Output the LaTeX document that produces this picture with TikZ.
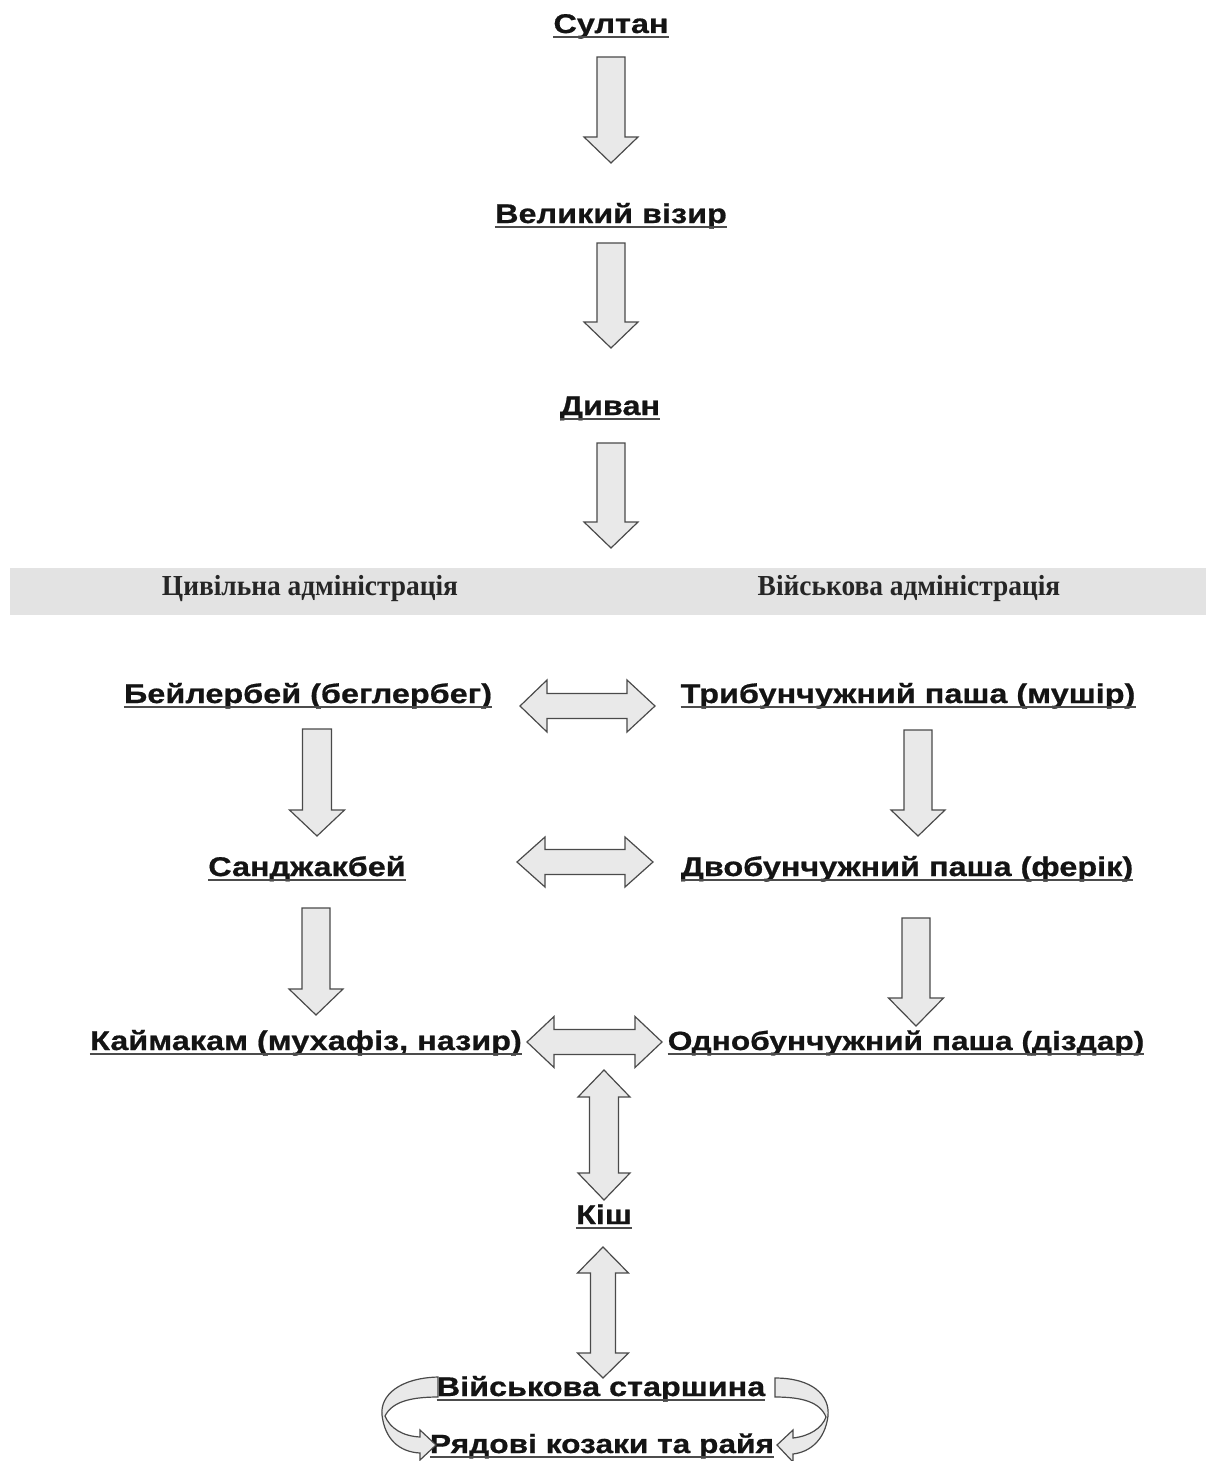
\documentclass[tikz,border=0pt]{standalone}
\usepackage{fontspec}
\newfontfamily\lblfont[FakeStretch=1.2, BoldFeatures={FakeBold=0.7}]{Liberation Sans}
\newfontfamily\bandfont[FakeStretch=0.945]{Liberation Serif}
\definecolor{arrfill}{HTML}{E9E9E9}
\definecolor{arrdraw}{HTML}{4A4A4A}
\definecolor{bandgray}{HTML}{E3E3E3}
\tikzset{
  lbl/.style={inner sep=0pt, anchor=base, font=\lblfont\bfseries\fontsize{27}{31}\selectfont, text=black!92},
  lblsm/.style={lbl, font=\lblfont\bfseries\fontsize{26.4}{31}\selectfont},
  bandlbl/.style={inner sep=0pt, anchor=base, font=\bandfont\bfseries\fontsize{29}{33}\selectfont, text=black!85},
  uline/.style={draw=black!70, line width=1.6pt},
  blk/.style={fill=arrfill, draw=arrdraw, line width=1.2pt, line join=miter}
}
% down arrow: x, ytop, yheadback, ytip, shaft half, head half
\newcommand\dnarr[6]{\draw[blk] (#1-#5,#2) -- (#1+#5,#2) -- (#1+#5,#3) -- (#1+#6,#3) -- (#1,#4) -- (#1-#6,#3) -- (#1-#5,#3) -- cycle;}
% horizontal double: y, xltip, xlback, xrback, xrtip, shaft half, head half
\newcommand\hdarr[7]{\draw[blk] (#2,#1) -- (#3,#1-#7) -- (#3,#1-#6) -- (#4,#1-#6) -- (#4,#1-#7) -- (#5,#1) -- (#4,#1+#7) -- (#4,#1+#6) -- (#3,#1+#6) -- (#3,#1+#7) -- cycle;}
% vertical double: x, ytoptip, ytopback, ybotback, ybottip, shaft half, head half
\newcommand\vdarr[7]{\draw[blk] (#1,#2) -- (#1+#7,#3) -- (#1+#6,#3) -- (#1+#6,#4) -- (#1+#7,#4) -- (#1,#5) -- (#1-#7,#4) -- (#1-#6,#4) -- (#1-#6,#3) -- (#1-#7,#3) -- cycle;}
\begin{document}
\begin{tikzpicture}[x=1pt,y=-1pt]
\useasboundingbox (0,0) rectangle (1206,1461);
% band
\fill[bandgray] (10,568) rectangle (1206,615);
\node[bandlbl] (civ) at (310,595) {Цивільна адміністрація};
\node[bandlbl] (mil) at (909,595) {Військова адміністрація};
% labels
\node[lbl] (sultan) at (611,33) {Султан};
\node[lbl] (vizir) at (611,223) {Великий візир};
\node[lbl] (divan) at (610,415) {Диван};
\node[lbl] (beyl) at (308,703) {Бейлербей (беглербег)};
\node[lbl] (trib) at (908,703) {Трибунчужний паша (мушір)};
\node[lbl] (sand) at (307,876) {Санджакбей};
\node[lbl] (dvob) at (907,876) {Двобунчужний паша (ферік)};
\node[lbl] (kaym) at (306,1050) {Каймакам (мухафіз, назир)};
\node[lblsm] (odno) at (906,1050) {Однобунчужний паша (діздар)};
\node[lbl] (kish) at (604,1224) {Кіш};
\node[lbl] (star) at (601,1396) {Військова старшина};
\node[lblsm] (ryad) at (602,1453) {Рядові козаки та райя};
\foreach \n in {sultan,vizir,divan,beyl,trib,sand,dvob,kaym,odno,kish,star,ryad}
  \draw[uline] ([yshift=-4pt]\n.base west) -- ([yshift=-4pt]\n.base east);
% arrows
\dnarr{611}{57}{137}{163}{14}{27}
\dnarr{611}{243}{322}{348}{14}{27}
\dnarr{611}{443}{522}{548}{14}{27}
\dnarr{317}{729}{810}{836}{14.5}{27.5}
\dnarr{918}{730}{810}{836}{14}{27}
\dnarr{316}{908}{989}{1015}{14}{27}
\dnarr{916}{918}{998}{1026}{14}{27.5}
\hdarr{706}{520}{547}{627}{655}{12.5}{26}
\hdarr{862}{517}{545}{625}{653}{12.5}{25}
\hdarr{1042}{527}{554}{635}{662}{12.5}{25.5}
\vdarr{604}{1070}{1097}{1173}{1200}{14.5}{26}
\vdarr{603}{1247}{1273}{1353}{1378}{12.5}{25.5}
% curved arrows
\draw[blk] (438,1377) .. controls (400,1378) and (380,1395) .. (382,1415)
  .. controls (385,1440) and (400,1452) .. (420,1453) -- (420,1460) -- (436,1445) -- (420,1430) -- (420,1437)
  .. controls (402,1436) and (390,1428) .. (385,1416)
  .. controls (392,1402) and (410,1397) .. (438,1397) -- cycle;
\draw[blk] (775,1378) .. controls (812,1378) and (830,1395) .. (828,1416)
  .. controls (825,1440) and (810,1452) .. (793,1454) -- (793,1462) -- (777,1445) -- (793,1430) -- (793,1438)
  .. controls (810,1436) and (822,1428) .. (826,1417)
  .. controls (820,1402) and (802,1397) .. (775,1397) -- cycle;
\end{tikzpicture}
\end{document}
